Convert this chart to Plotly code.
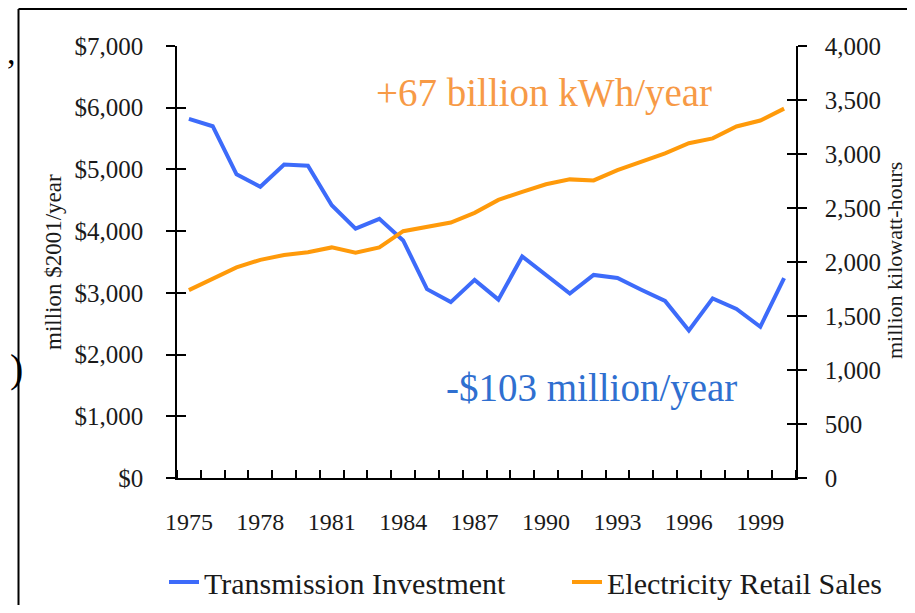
import plotly.graph_objects as go

years = list(range(1975, 2001))
transmission_investment = [5820, 5700, 4920, 4720, 5080, 5060, 4420, 4040, 4200, 3850,
                           3060, 2850, 3210, 2890, 3590, 3290, 2990, 3290, 3240, 3050,
                           2870, 2390, 2910, 2740, 2450, 3240]
retail_sales = [1740, 1850, 1950, 2020, 2065, 2090, 2135, 2085, 2135, 2285,
                2325, 2365, 2455, 2575, 2650, 2720, 2765, 2755, 2850, 2930,
                3005, 3100, 3145, 3255, 3310, 3420]
x_tick_years = [1975, 1978, 1981, 1984, 1987, 1990, 1993, 1996, 1999]
left_ticks = [0, 1000, 2000, 3000, 4000, 5000, 6000, 7000]
left_labels = ["$0", "$1,000", "$2,000", "$3,000", "$4,000", "$5,000", "$6,000", "$7,000"]
right_ticks = [0, 500, 1000, 1500, 2000, 2500, 3000, 3500, 4000]
right_labels = ["0", "500", "1,000", "1,500", "2,000", "2,500", "3,000", "3,500", "4,000"]

FONT = "Liberation Serif"
INK = "#1a1a1a"
BLUE = "#3D6BFA"
ORANGE = "#FF9A0A"

# page body has an 8px margin on every side, so the figure starts at (8, 8) on screen
OFF = 8
W, H = 915 - 2 * OFF, 613 - 2 * OFF
L, T = 177 - OFF, 46 - OFF
R = W - (796 - OFF)
B = H - (478 - OFF)
pw, ph = W - L - R, H - T - B

def sx(xs):
    return (xs - OFF - L) / pw

def sy(ys):
    return (H - B - (ys - OFF)) / ph

fig = go.Figure()
fig.add_trace(go.Scatter(x=years, y=transmission_investment, name="Transmission Investment",
                         mode="lines", line=dict(color=BLUE, width=4), yaxis="y",
                         legend="legend"))
fig.add_trace(go.Scatter(x=years, y=retail_sales, name="Electricity Retail Sales",
                         mode="lines", line=dict(color=ORANGE, width=4), yaxis="y2",
                         legend="legend2"))
# empty helper traces so the overlay tick axes are drawn
fig.add_trace(go.Scatter(x=[None], y=[None], yaxis="y3", showlegend=False, hoverinfo="skip"))
fig.add_trace(go.Scatter(x=[None], y=[None], yaxis="y4", showlegend=False, hoverinfo="skip"))

legfont = dict(family=FONT, size=30, color=INK)

fig.update_layout(
    width=W, height=H,
    margin=dict(l=L, r=R, t=T, b=B, autoexpand=False),
    paper_bgcolor="white", plot_bgcolor="white",
    showlegend=True,
    legend=dict(orientation="h", x=sx(164), y=sy(582), xanchor="left", yanchor="middle",
                font=legfont, bgcolor="rgba(0,0,0,0)"),
    legend2=dict(orientation="h", x=sx(567), y=sy(582), xanchor="left", yanchor="middle",
                 font=legfont, bgcolor="rgba(0,0,0,0)"),
    xaxis=dict(range=[1974.5, 2000.5], tickmode="array", tickvals=x_tick_years,
               ticks="", showgrid=False, zeroline=False, showline=True,
               linecolor="black", linewidth=1.5,
               tickfont=dict(family=FONT, size=24, color=INK),
               ticklabelstandoff=21,
               minor=dict(tick0=1974.5, dtick=1, ticks="inside", ticklen=8,
                          tickcolor="black", tickwidth=1.5, showgrid=False)),
    yaxis=dict(range=[0, 7000], tickmode="array", tickvals=left_ticks, ticktext=left_labels,
               ticks="outside", ticklen=9, tickwidth=1.5, tickcolor="black",
               showgrid=False, zeroline=False, showline=True, linecolor="black", linewidth=1.5,
               tickfont=dict(family=FONT, size=25, color=INK), ticklabelstandoff=18),
    yaxis2=dict(range=[0, 4000], overlaying="y", side="right", anchor="x",
                tickmode="array", tickvals=right_ticks, ticktext=right_labels,
                ticks="outside", ticklen=9, tickwidth=1.5, tickcolor="black",
                showgrid=False, zeroline=False, showline=True, linecolor="black", linewidth=1.5,
                tickfont=dict(family=FONT, size=25, color=INK), ticklabelstandoff=13),
    yaxis3=dict(range=[0, 7000], overlaying="y", side="left", anchor="x",
                tickmode="array", tickvals=left_ticks, showticklabels=False,
                ticks="inside", ticklen=9, tickwidth=1.5, tickcolor="black",
                showgrid=False, zeroline=False, showline=False),
    yaxis4=dict(range=[0, 4000], overlaying="y", side="right", anchor="x",
                tickmode="array", tickvals=right_ticks, showticklabels=False,
                ticks="inside", ticklen=9, tickwidth=1.5, tickcolor="black",
                showgrid=False, zeroline=False, showline=False),
    annotations=[
        dict(x=1989.9, y=6240, xref="x", yref="y", text="+67 billion kWh/year",
             showarrow=False, font=dict(family=FONT, size=39, color="#F79A46")),
        dict(x=1991.9, y=1460, xref="x", yref="y", text="-$103 million/year",
             showarrow=False, font=dict(family=FONT, size=39, color="#2F6FD0")),
        dict(x=sx(53), y=sy(262), xref="paper", yref="paper", text="million $2001/year",
             xanchor="center", yanchor="middle",
             textangle=-90, showarrow=False, font=dict(family=FONT, size=23, color=INK)),
        dict(x=sx(894), y=sy(261), xref="paper", yref="paper", text="million kilowatt-hours",
             xanchor="center", yanchor="middle",
             textangle=-90, showarrow=False, font=dict(family=FONT, size=22, color=INK)),
        dict(x=sx(5), y=sy(32), xref="paper", yref="paper", text=",", showarrow=False,
             font=dict(family=FONT, size=34, color="black")),
        dict(x=sx(8), y=sy(393), xref="paper", yref="paper", text=")", showarrow=False,
             font=dict(family=FONT, size=40, color="black")),
    ],
    shapes=[
        dict(type="line", xref="paper", yref="paper", x0=sx(18.5), x1=sx(18.5),
             y0=sy(9), y1=sy(613), line=dict(color="black", width=2)),
        dict(type="line", xref="paper", yref="paper", x0=sx(18.5), x1=sx(915),
             y0=sy(9), y1=sy(9), line=dict(color="black", width=2)),
    ],
)

fig.write_html("out.html")
